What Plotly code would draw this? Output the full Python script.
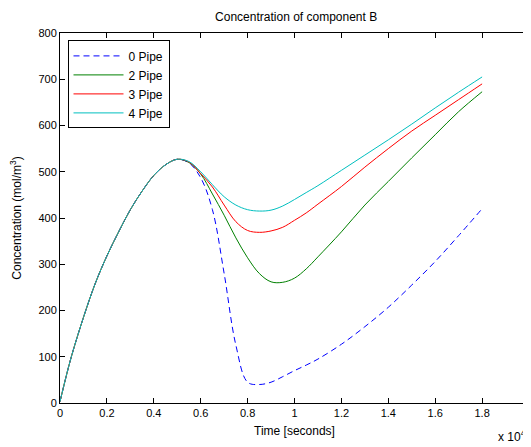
import plotly.graph_objects as go

# time in units of 1e4 seconds
t = [0, 0.025, 0.05, 0.1, 0.15, 0.2, 0.25, 0.3, 0.35, 0.4, 0.45, 0.5, 0.55, 0.6,
     0.65, 0.7, 0.75, 0.8, 0.85, 0.9, 0.95, 1.0, 1.05, 1.1, 1.2, 1.3, 1.4, 1.5,
     1.6, 1.7, 1.8]

rise = [3, 55, 103, 185, 258, 318, 370, 418, 458, 492, 515, 527]

pipe0 = rise + [519, 487, 418, 280, 125, 45, 40, 45, 57, 70, 82, 95, 127, 165,
                207, 255, 306, 362, 420]
pipe2 = rise + [520, 495, 452, 406, 357, 314, 280, 262, 261, 270, 290, 316, 370,
                428, 479, 530, 580, 630, 673]
pipe3 = rise + [521, 496, 467, 428, 392, 373, 369, 372, 380, 395, 411, 430, 468,
                510, 550, 588, 622, 656, 690]
pipe4 = rise + [522, 500, 472, 446, 428, 418, 415, 417, 426, 440, 455, 470, 503,
                536, 569, 603, 638, 672, 705]

series = [("0 Pipe", pipe0, "#0000FF", "6px,4px"),
          ("2 Pipe", pipe2, "#008000", "solid"),
          ("3 Pipe", pipe3, "#FF0000", "solid"),
          ("4 Pipe", pipe4, "#00BFBF", "solid")]

xticks = [0, 0.2, 0.4, 0.6, 0.8, 1, 1.2, 1.4, 1.6, 1.8, 2]
yticks = [0, 100, 200, 300, 400, 500, 600, 700, 800]

fig = go.Figure()
for name, vals, col, dash in series:
    fig.add_trace(go.Scatter(
        x=[v * 10000 for v in t], y=vals, name=name, mode="lines",
        line=dict(color=col, width=1, dash=dash, shape="spline", smoothing=1.0)
    ))

font = dict(family="Liberation Sans, Arial, sans-serif", size=11, color="black")
axis = dict(showline=True, linecolor="black", linewidth=1, mirror="ticks",
            ticks="inside", ticklen=5, tickcolor="black", showgrid=False,
            zeroline=False, tickfont=font, automargin=False)

# page body has an 8px margin, so the figure is sized to the remaining window
fig.update_layout(
    width=523, height=439,
    margin=dict(l=52, r=2, t=25, b=44),
    paper_bgcolor="white", plot_bgcolor="white",
    font=font,
    title=dict(text="Concentration of component B", x=0.551, xanchor="center",
               y=0.979, yanchor="middle", font=dict(size=12, family=font["family"])),
    xaxis=dict(axis, range=[0, 20000], tickvals=[v * 10000 for v in xticks],
               ticktext=[f"{v:g}" for v in xticks],
               title=dict(text="Time [seconds]", standoff=8, font=dict(size=12))),
    yaxis=dict(axis, range=[0, 800], tickvals=yticks,
               title=dict(text="Concentration (mol/m<sup>3</sup>)", standoff=14,
                          font=dict(size=12))),
    legend=dict(x=0.016, y=0.98, xanchor="left", yanchor="top",
                bgcolor="white", bordercolor="black", borderwidth=1,
                font=dict(size=12, family=font["family"]),
                itemwidth=50, tracegroupgap=0),
    showlegend=True,
)

fig.add_annotation(text="x 10<sup>4</sup>", xref="paper", yref="paper",
                   x=0.998, y=-0.116, xanchor="right", yanchor="bottom",
                   showarrow=False, font=dict(size=12, family=font["family"]))

fig.write_html("out.html")
